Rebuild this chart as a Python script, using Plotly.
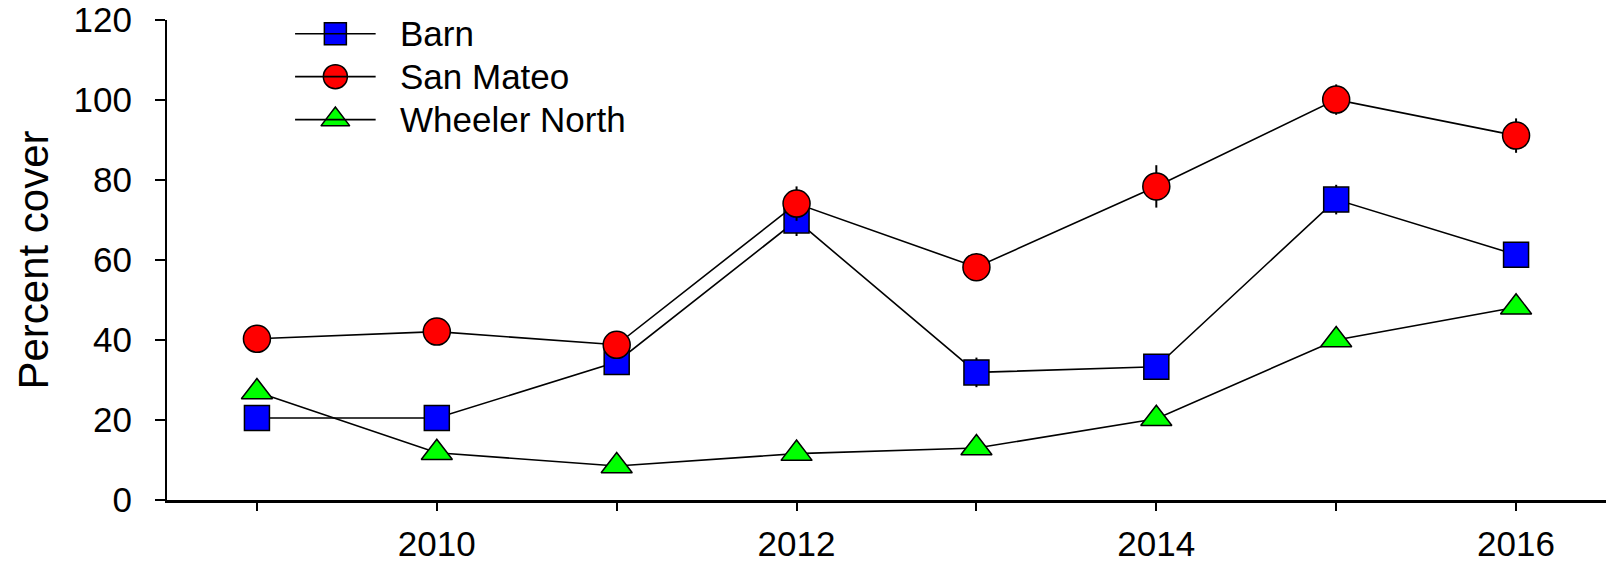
import plotly.graph_objects as go

years = [2009, 2010, 2011, 2012, 2013, 2014, 2015, 2016]

barn = [20.5, 20.5, 34.5, 69.9, 31.9, 33.3, 75.1, 61.3]
barn_err = [0, 0, 0, 3.9, 3.7, 0, 3.7, 0]

san_mateo = [40.3, 42.1, 38.8, 74.1, 58.2, 78.4, 100.1, 91.1]
san_mateo_err = [0, 0, 0, 4.3, 0, 5.3, 3.8, 4.3]

wheeler_north = [27.0, 11.8, 8.5, 11.6, 13.0, 20.3, 40.0, 48.2]
wheeler_north_err = [0, 0, 0, 0, 0, 0, 0, 0]

x_ticks = [2010, 2012, 2014, 2016]
y_ticks = [0, 20, 40, 60, 80, 100, 120]

FONT = "Liberation Sans, Arial, sans-serif"

# name, values, errors, symbol, fill, marker size in plot, marker size in key
series = [
    ("Barn", barn, barn_err, "square", "#0000FF", 25, 22),
    ("San Mateo", san_mateo, san_mateo_err, "circle", "#FF0000", 27, 24),
    ("Wheeler North", wheeler_north, wheeler_north_err, "triangle-up", "#00FF00", 27, 25),
]

fig = go.Figure()
for name, vals, err, sym, color, size, _ in series:
    fig.add_trace(go.Scatter(
        x=years, y=vals, name=name, mode="lines+markers", showlegend=False,
        line=dict(color="black", width=1.6),
        marker=dict(symbol=sym, size=size, color=color,
                    line=dict(color="black", width=1.5)),
        error_y=dict(type="data", array=err, visible=True,
                     color="black", thickness=2, width=0),
    ))

# Legend box drawn in plot-area fractions (long key lines, full-size symbols)
key_line = (0.089, 0.145)
key_mark = 0.117
key_text = 0.1605
key_rows = [0.9715, 0.8820, 0.7925]

for (name, _, _, sym, color, _, ksize), row in zip(series, key_rows):
    fig.add_shape(type="line", xref="paper", yref="paper",
                  x0=key_line[0], x1=key_line[1], y0=row, y1=row,
                  line=dict(color="black", width=1.6))
    fig.add_trace(go.Scatter(
        x=[key_mark], y=[row], xaxis="x2", yaxis="y2", mode="markers",
        showlegend=False, hoverinfo="skip",
        marker=dict(symbol=sym, size=ksize, color=color,
                    line=dict(color="black", width=1.5)),
    ))
    fig.add_annotation(text=name, xref="paper", yref="paper",
                       x=key_text, y=row, xanchor="left", yanchor="middle",
                       showarrow=False, font=dict(family=FONT, size=35))

fig.update_layout(
    width=1606, height=565,
    margin=dict(l=167, r=0, t=20, b=65),
    plot_bgcolor="white", paper_bgcolor="white",
    font=dict(family=FONT, size=35, color="black"),
    showlegend=False,
    xaxis=dict(
        range=[2008.5, 2016.5], automargin=False,
        tickmode="array", tickvals=years,
        ticktext=[str(y) if y in x_ticks else "" for y in years],
        ticks="outside", ticklen=8, tickwidth=1.5, tickcolor="black",
        showline=True, linecolor="black", linewidth=2.5,
        showgrid=False, zeroline=False,
        tickfont=dict(family=FONT, size=35),
        ticklabelstandoff=3,
    ),
    yaxis=dict(
        range=[0, 120], automargin=False,
        tickmode="array", tickvals=y_ticks,
        ticks="outside", ticklen=10, tickwidth=1.5, tickcolor="black",
        showline=True, linecolor="black", linewidth=2,
        showgrid=False, zeroline=False,
        tickfont=dict(family=FONT, size=35),
        ticklabelstandoff=16,
        title=dict(text="Percent cover", font=dict(family=FONT, size=42), standoff=12),
    ),
    xaxis2=dict(overlaying="x", range=[0, 1], visible=False, fixedrange=True),
    yaxis2=dict(overlaying="y", range=[0, 1], visible=False, fixedrange=True),
)

fig.write_html("out.html")
